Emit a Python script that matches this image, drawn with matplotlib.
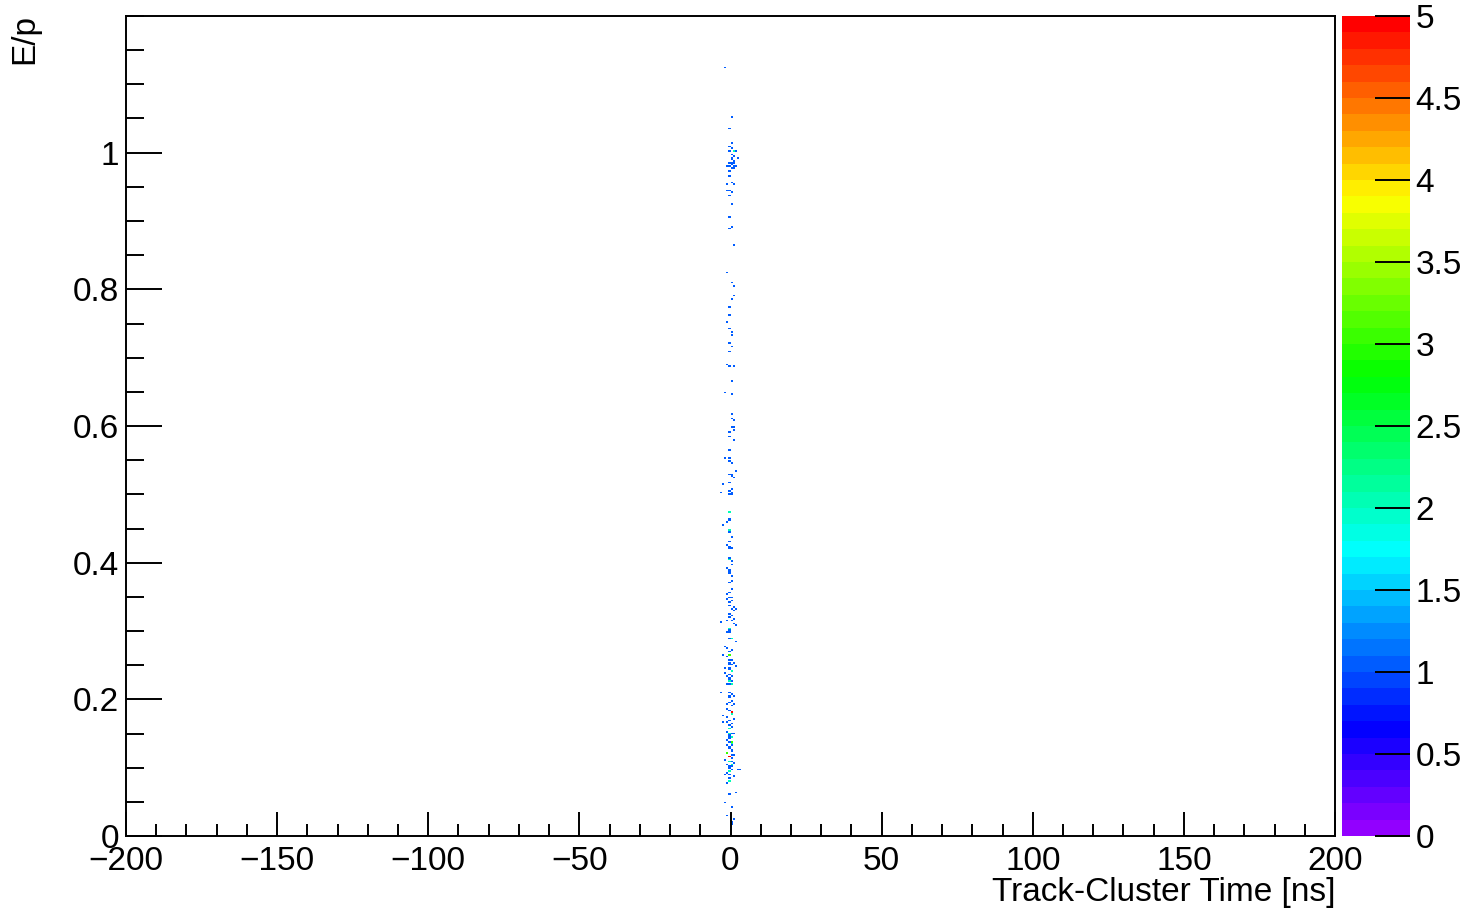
import colorsys
import numpy as np
import matplotlib
matplotlib.use("Agg")
import matplotlib.pyplot as plt
from matplotlib.colors import ListedColormap
from matplotlib.ticker import MultipleLocator

plt.rcParams['font.family'] = ['Liberation Sans', 'DejaVu Sans']

# filled cells: time [ns], E/p, entries
t_ns = [
    -1.7, 0.3, -0.2, 0.3, -0.6, 0.0, 0.7, 1.4, -0.6, 0.3, 0.9, 0.5, 2.25, 0.3, 0.9,
    -0.4, 0.5, 1.2, 0.05, 0.9, -1.2, -0.2, 0.5, 1.4, 0.9, -0.6, -0.2, -1.0, 0.5, 0.9,
    -1.0, -0.2, 0.3, -0.2, 0.3, -0.6, -0.6, 0.3, 0.9, -1.0, 0.3, 0.9, 0.9, 0.3, -0.6,
    -0.2, -1.2, -0.6, 0.3, 0.3, -0.2, 0.5, -0.2, -1.2, -0.6, 0.9, 0.3, -1.7, 0.3, 0.3,
    0.3, 0.9, 0.05, 0.7, 0.9, -0.6, -0.2, 0.9, -0.2, -1.7, -0.2, -0.2, 0.3, 1.4, -0.6,
    0.3, 0.5, 0.9, -2.2, -0.2, -0.6, 0.3, 0.3, -3.2, -0.2, 0.5, -0.2, -0.6, -0.2, -1.2,
    -2.2, -0.6, -0.2, -0.6, 0.3, -0.6, -1.2, -0.6, 0.3, -0.2, -0.6, -0.2,
    -0.2, 0.5, 0.5, -0.8, -0.2, -0.6, -0.2, 0.3, -0.2, 0.5, 0.3, -0.2, -1.2, -0.6, 0.5,
    -1.2, 0.5, -0.2, -0.2, 0.9, 0.3, 1.4, 0.9, -0.6, -0.6, 0.3, 0.9, 0.3, -2.8, -1.2,
    0.9, 1.4, -0.2, -0.6, -0.2, -0.8, 0.3, 1.4, -0.2, -1.7, -0.8, 0.5, -0.2, -2.6, -0.2,
    -0.8, 0.3,
    -0.6, -0.2, 0.9, -0.6, 0.5, 1.4, -1.7, -0.2, -0.6, 0.5, -1.7, -0.2, -1.0, 0.5, -0.2,
    -0.6, 0.5, -0.2, -0.8, 0.5, -0.2, 0.3,
    -2.8, -0.2, 0.5, -0.6, 0.9, -0.6, 0.3, -0.2, 0.9, -0.8, 0.5, -2.2, -1.2, -0.2, 0.3,
    0.5, -0.2, -2.6, -1.2, 0.3, -0.6, 0.5, -0.2, -0.8, 0.3, 0.9, -0.6, -0.2, -0.2, -1.2,
    -0.6, 0.5, -0.8, 0.3, -0.4, 0.5, 0.05, -0.8, 0.7, -0.4, 0.5, -1.7, -0.6, 0.3, 0.9,
    -1.2, -0.2, 0.5, -0.6, 0.3, 2.05, 2.9, -0.8, -0.2, -1.5, -0.2, -0.6, -0.8, 1.4, -0.6,
    -1.7, 0.3, -0.8, 0.7, 0.5, 0.5,
    0.3, -0.2, 0.5, 0.3, -0.2, 0.3, -1.0, 0.9, -0.6, 0.3, -0.2, 0.9,
]
ep = [
    1.125, 1.052, 1.036, 1.013, 1.010, 1.006, 1.003, 1.001, 1.003, 0.997, 0.994, 0.993, 0.992, 0.989, 0.988,
    0.985, 0.985, 0.985, 0.983, 0.981, 0.980, 0.980, 0.979, 0.980, 0.977, 0.972, 0.965, 0.955, 0.957, 0.953,
    0.945, 0.945, 0.942, 0.936, 0.926, 0.906, 0.890, 0.891, 0.866, 0.824, 0.809, 0.804, 0.791, 0.786, 0.775,
    0.763, 0.752, 0.742, 0.738, 0.732, 0.720, 0.716, 0.709, 0.690, 0.688, 0.687, 0.666, 0.650, 0.647, 0.618,
    0.611, 0.608, 0.598, 0.599, 0.594, 0.592, 0.584, 0.580, 0.565, 0.552, 0.552, 0.549, 0.546, 0.533, 0.530,
    0.528, 0.526, 0.525, 0.515, 0.516, 0.505, 0.507, 0.503, 0.502, 0.501, 0.500, 0.473, 0.465, 0.463, 0.459,
    0.455, 0.448, 0.447, 0.444, 0.439, 0.431, 0.425, 0.424, 0.421, 0.420, 0.406, 0.405,
    0.404, 0.401, 0.398, 0.393, 0.390, 0.387, 0.384, 0.381, 0.370, 0.374, 0.361, 0.357, 0.353, 0.350, 0.350,
    0.347, 0.344, 0.343, 0.338, 0.335, 0.332, 0.333, 0.330, 0.326, 0.321, 0.322, 0.319, 0.316, 0.314, 0.316,
    0.310, 0.309, 0.304, 0.301, 0.299, 0.298, 0.289, 0.285, 0.288, 0.277, 0.274, 0.272, 0.270, 0.266, 0.265,
    0.263, 0.259,
    0.257, 0.254, 0.253, 0.250, 0.250, 0.248, 0.246, 0.246, 0.243, 0.242, 0.238, 0.237, 0.234, 0.233, 0.231,
    0.228, 0.227, 0.223, 0.222, 0.221, 0.226, 0.240,
    0.211, 0.210, 0.208, 0.205, 0.204, 0.202, 0.199, 0.195, 0.194, 0.192, 0.190, 0.176, 0.175, 0.184, 0.182,
    0.180, 0.170, 0.167, 0.166, 0.165, 0.161, 0.160, 0.158, 0.153, 0.151, 0.149, 0.147, 0.145, 0.142, 0.140,
    0.137, 0.138, 0.133, 0.132, 0.128, 0.126, 0.123, 0.120, 0.119, 0.116, 0.114, 0.111, 0.109, 0.110, 0.107,
    0.104, 0.102, 0.101, 0.099, 0.097, 0.097, 0.098, 0.093, 0.091, 0.089, 0.084, 0.081, 0.077, 0.064, 0.061,
    0.049, 0.042, 0.031, 0.024, 0.021, 0.018,
    0.178, 0.150, 0.135, 0.105, 0.095, 0.145, 0.186, 0.171, 0.156, 0.118, 0.131, 0.088,
]
entries = [1] * len(ep)
for i, n in [(6, 2), (86, 2), (134, 2), (138, 2), (146, 3), (168, 2), (169, 2),
             (186, 5), (202, 3), (208, 3), (210, 5), (213, 2), (227, 2)]:
    entries[i] = n
for i in range(len(ep) - 12, len(ep) - 6):
    entries[i] = 2

# ROOT "pretty" palette, 50 levels from violet to red
pal = [colorsys.hls_to_rgb((280 - (i + 1) * 5.6) / 360.0, 0.5, 1.0) for i in range(50)]
cmap = ListedColormap(pal)

xedges = np.linspace(-200, 200, 601)
yedges = np.linspace(0, 1.2, 501)

fig = plt.figure(figsize=(14.67, 9.14), dpi=100)
ax = fig.add_axes([126 / 1467, 78 / 914, 1209 / 1467, 820 / 914])
cax = fig.add_axes([1342 / 1467, 78 / 914, 68 / 1467, 820 / 914])

h = ax.hist2d(t_ns, ep, bins=[xedges, yedges], weights=entries, cmap=cmap,
              vmin=0, vmax=5, cmin=0.5)

ax.set_xlim(-200, 200)
ax.set_ylim(0, 1.2)
ax.xaxis.set_major_locator(MultipleLocator(50))
ax.xaxis.set_minor_locator(MultipleLocator(10))
ax.yaxis.set_minor_locator(MultipleLocator(0.05))
ax.set_yticks([0, 0.2, 0.4, 0.6, 0.8, 1.0])
ax.set_yticklabels(['0', '0.2', '0.4', '0.6', '0.8', '1'])
ax.tick_params(axis='x', which='major', direction='in', length=17, width=1.4, labelsize=24, pad=7)
ax.tick_params(axis='x', which='minor', direction='in', length=8.5, width=1.4)
ax.tick_params(axis='y', which='major', direction='in', length=26, width=1.4, labelsize=24, pad=5)
ax.tick_params(axis='y', which='minor', direction='in', length=13, width=1.4)
for s in ax.spines.values():
    s.set_linewidth(1.4)

cb = fig.colorbar(h[3], cax=cax)
cb.outline.set_visible(False)
cb.set_ticks([0, 0.5, 1, 1.5, 2, 2.5, 3, 3.5, 4, 4.5, 5])
cb.set_ticklabels(['0', '0.5', '1', '1.5', '2', '2.5', '3', '3.5', '4', '4.5', '5'])
cax.tick_params(direction='in', length=25, width=1.4, labelsize=24, pad=4)
cax.minorticks_off()

fig.text(1335 / 1467, 1 - 893 / 914, 'Track-Cluster Time [ns]', ha='right', va='center', fontsize=24)
fig.text(25 / 1467, 1 - 14 / 914, 'E/p', ha='center', va='top', rotation=90, fontsize=24)

fig.savefig('out.png', dpi=100)
